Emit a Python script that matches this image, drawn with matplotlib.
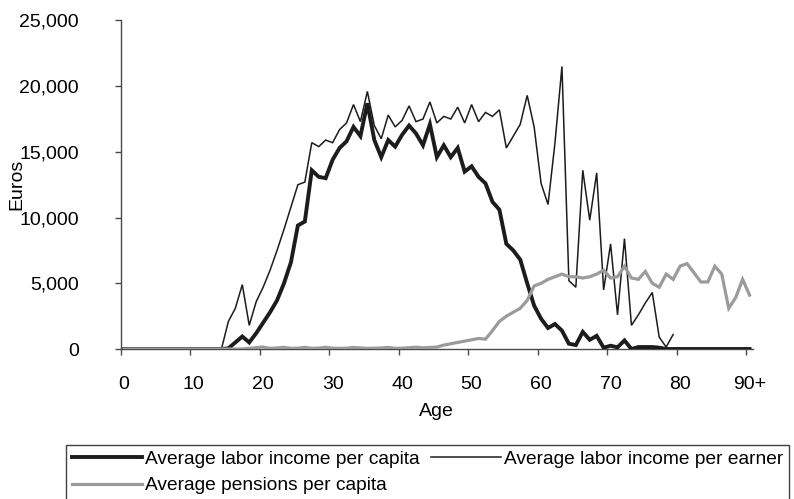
import matplotlib
matplotlib.use('Agg')
import matplotlib.pyplot as plt
import numpy as np

# ---------------- data ----------------
ages = list(range(91))
tick_positions = [0, 10, 20, 30, 40, 50, 60, 70, 80, 90]
tick_labels = ['0', '10', '20', '30', '40', '50', '60', '70', '80', '90+']

labor_per_capita = (
    [0] * 15 +                                            # 0-14
    [50, 500, 950, 500, 1200, 2000, 2800, 3700, 5000, 6600,   # 15-24
     9400, 9700, 13600, 13100, 13000, 14400, 15300, 15800, 16900, 16200,  # 25-34
     18700, 15900, 14600, 15900, 15400, 16300, 17000, 16400, 15500, 17100,  # 35-44
     14600, 15500, 14600, 15300, 13500, 13900, 13100, 12600, 11200, 10600,  # 45-54
     8000, 7500, 6800, 5000, 3300, 2300, 1600, 1900, 1400, 400,   # 55-64
     300, 1300, 700, 1000, 100, 250, 130, 650, 0, 150,   # 65-74
     150, 150, 100] +                                     # 75-77
    [0] * 13                                              # 78-90
)

labor_per_earner = (
    [0] * 15 +
    [2100, 3100, 4900, 1800, 3600, 4700, 6000, 7500, 9100, 10800,   # 15-24
     12500, 12700, 15700, 15400, 15900, 15700, 16700, 17200, 18600, 17300,  # 25-34
     19600, 17000, 16000, 17800, 16900, 17400, 18500, 17300, 17500, 18800,  # 35-44
     17200, 17700, 17500, 18400, 17200, 18600, 17300, 18000, 17700, 18200,  # 45-54
     15300, 16200, 17100, 19300, 16900, 12600, 11000, 15700, 21500, 5200,  # 55-64
     4700, 13600, 9800, 13400, 4500, 8000, 2600, 8400, 1800, 2600,   # 65-74
     3500, 4300, 900, 150, 1100] +                                  # 75-79
    [np.nan] * 11                                                   # 80-90
)

pensions_per_capita = (
    [0] * 18 +
    [50, 100, 150, 50, 80, 130, 50, 60, 130, 50,      # 18-27
     70, 130, 60, 50, 60, 120, 80, 50, 60, 80,        # 28-37
     120, 50, 60, 100, 140, 90, 120, 150, 300, 400,   # 38-47
     500, 600, 700, 800, 750, 1400, 2100, 2500, 2800, 3100,  # 48-57
     3700, 4800, 5000, 5300, 5500, 5700, 5500, 5500, 5400, 5500,  # 58-67
     5700, 6000, 5400, 5500, 6300, 5400, 5300, 5900, 5000, 4700,  # 68-77
     5700, 5300, 6300, 6500, 5800, 5100, 5100, 6300, 5700, 3100,  # 78-87
     3900, 5300, 4100]                                # 88-90
)

series_names = ['Average labor income per capita',
                'Average pensions per capita',
                'Average labor income per earner']

# ---------------- style ----------------
plt.rcParams['font.family'] = ['Liberation Sans', 'DejaVu Sans']
FS = 14
LFS = 13.8
dark = '#1c1c1c'
gray = '#9b9b9b'
spine_col = '#4a4a4a'

fig = plt.figure(figsize=(7.94, 4.99), dpi=100)
ax = fig.add_axes([0.152, 0.3006, 0.7964, 0.6584])

x = np.array(ages) + 0.5  # category centres
l_earner, = ax.plot(x, labor_per_earner, color=dark, lw=1.1, zorder=3,
                    label=series_names[2], solid_joinstyle='miter')
l_capita, = ax.plot(x, labor_per_capita, color=dark, lw=2.8, zorder=4,
                    label=series_names[0], solid_joinstyle='miter')
l_pens, = ax.plot(x, pensions_per_capita, color=gray, lw=2.3, zorder=5,
                  label=series_names[1], solid_joinstyle='miter')

ax.set_xlim(0, 91)
ax.set_ylim(0, 25000)

for s in ['top', 'right']:
    ax.spines[s].set_visible(False)
for s in ['left', 'bottom']:
    ax.spines[s].set_color(spine_col)
    ax.spines[s].set_linewidth(1.0)

ax.set_yticks(range(0, 25001, 5000))
ax.set_yticklabels([f'{v:,}' for v in range(0, 25001, 5000)])
ax.tick_params(axis='y', length=4, width=1.0, color=spine_col, labelsize=FS,
               pad=26, direction='out')

ax.set_xticks(tick_positions)
ax.set_xticklabels([''] * len(tick_positions))
ax.tick_params(axis='x', which='major', length=4, width=1.0, color=spine_col,
               direction='out')
ax.set_xticks([p + 0.5 for p in tick_positions], minor=True)
ax.set_xticklabels(tick_labels, minor=True)
ax.tick_params(axis='x', which='minor', length=0, labelsize=FS, pad=19.5)

ax.set_xlabel('Age', fontsize=FS, labelpad=7)
ax.set_ylabel('Euros', fontsize=FS)
ax.yaxis.set_label_coords(-0.151, 0.502)

leg = fig.legend(handles=[l_capita, l_pens, l_earner], ncol=2,
                 loc='upper left', bbox_to_anchor=(66 / 794, 1 - 445 / 499),
                 fontsize=LFS, frameon=True, fancybox=False, shadow=False,
                 handlelength=3.65, handletextpad=0.15, columnspacing=0.6,
                 borderpad=0.3, labelspacing=0.45, borderaxespad=0)
leg.get_frame().set_edgecolor('#111111')
leg.get_frame().set_linewidth(1.0)

fig.savefig('out.png', dpi=100)
